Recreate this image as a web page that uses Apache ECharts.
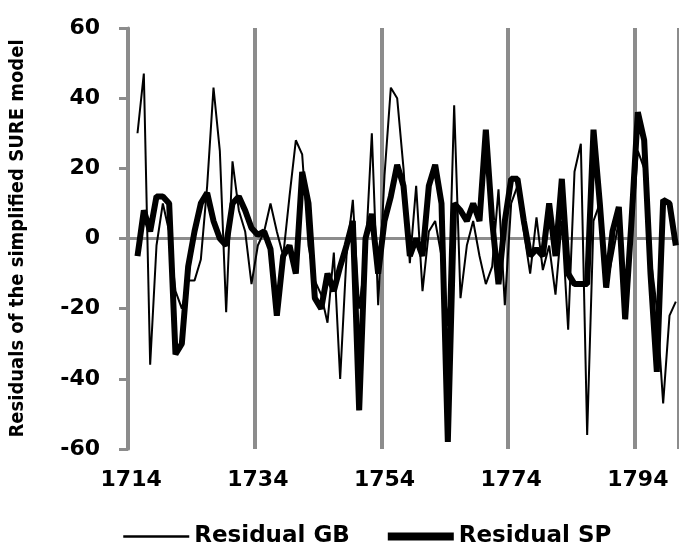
<!DOCTYPE html>
<html>
<head>
<meta charset="utf-8">
<script src="https://cdn.jsdelivr.net/npm/echarts@6/dist/echarts.min.js"></script>
<style>
html,body{margin:0;padding:0;background:#fff;}
#chart{width:679px;height:545px;}
</style>
</head>
<body>
<div id="chart"></div>
<script>
const years = [1714,1715,1716,1717,1718,1719,1720,1721,1722,1723,1724,1725,1726,1727,1728,1729,1730,1731,1732,1733,
1734,1735,1736,1737,1738,1739,1740,1741,1742,1743,1744,1745,1746,1747,1748,1749,1750,1751,1752,1753,
1754,1755,1756,1757,1758,1759,1760,1761,1762,1763,1764,1765,1766,1767,1768,1769,1770,1771,1772,1773,
1774,1775,1776,1777,1778,1779,1780,1781,1782,1783,1784,1785,1786,1787,1788,1789,1790,1791,1792,1793,
1794,1795,1796,1797,1798,1799,1800];

const residualGB = [null,30,47,-36,-2,10,2,-15,-20,-12,-12,
-6,15,43,25,-21,22,8,2,-13,-2,
2,10,2,-5,12,28,24,-2,-12,-16,
-24,-4,-40,-5,11,-20,-5,30,-19,18,
43,40,20,-7,15,-15,2,5,-5,-25,
38,-17,-2,5,-5,-13,-8,14,-19,10,
15,2,-10,6,-9,-2,-16,5,-26,19,
27,-56,5,10,-14,-5,5,-23,0,25,
20,-5,-20,-47,-22,-18];

const residualSP = [null,-5,8,2,12,12,10,-33,-30,-8,2,
10,13,5,0,-2,10,12,8,3,1,
2,-3,-22,-5,-2,-10,19,10,-17,-20,
-10,-15,-8,-2,5,-49,0,7,-10,5,
12,21,15,-5,0,-5,15,21,10,-58,
10,8,5,10,5,31,5,-13,5,17,
17,5,-5,-3,-5,10,-5,17,-10,-13,
-13,-13,31,10,-14,2,9,-23,5,36,
28,-10,-38,11,10,-2];

const yMin = -60, yMax = 60, yStep = 20;
const seriesNames = ['Residual GB', 'Residual SP'];

const gray = '#8c8c8c';
const fontFam = '"DejaVu Sans", Verdana, sans-serif';
const chart = echarts.init(document.getElementById('chart'), null, {renderer: 'canvas'});
const tr = 'rgba(0,0,0,0)';
const hiddenSymbol = {color: tr, borderColor: tr, borderWidth: 0, opacity: 0};
chart.setOption({
  animation: false,
  backgroundColor: '#fff',
  grid: {left: 128, top: 28, width: 554, height: 421, containLabel: false},
  legend: {
    left: 117, top: 520,
    itemWidth: 66, itemHeight: 24, itemGap: 34,
    textStyle: {fontFamily: fontFam, fontWeight: 'bold', fontSize: 23, color: '#000'},
    data: [
      {name: seriesNames[0], lineStyle: {width: 2.5, color: '#000'}, itemStyle: hiddenSymbol},
      {name: seriesNames[1], lineStyle: {width: 8, color: '#000'}, itemStyle: hiddenSymbol}
    ]
  },
  xAxis: [{
    type: 'category',
    data: years,
    boundaryGap: true,
    position: 'bottom',
    axisLine: {show: false, onZero: false},
    axisTick: {show: false, interval: 19},
    axisLabel: {interval: 19, margin: 20, fontFamily: fontFam, fontWeight: 'bold', fontSize: 22, color: '#000'},
    splitLine: {show: true, interval: 19, lineStyle: {color: gray, width: 4}}
  }],
  yAxis: {
    type: 'value',
    min: yMin, max: yMax, interval: yStep,
    axisLine: {show: true, lineStyle: {color: gray, width: 3}},
    axisTick: {show: true, inside: false, length: 9, lineStyle: {color: gray, width: 3}},
    axisLabel: {margin: 28, fontFamily: fontFam, fontWeight: 'bold', fontSize: 22, color: '#000'},
    splitLine: {show: true, lineStyle: {color: [tr, tr, tr, gray, tr, tr, tr], width: 3}},
    name: 'Residuals of the simplified SURE model',
    nameLocation: 'middle',
    nameGap: 100,
    nameTextStyle: {fontFamily: '"DejaVu Sans Condensed", "Liberation Sans Narrow", "Liberation Sans", sans-serif', fontWeight: 'bold', fontSize: 20, color: '#000'}
  },
  series: [
    {name: seriesNames[0], type: 'line', data: residualGB, symbol: 'none', connectNulls: false,
     lineStyle: {color: '#000', width: 2}, itemStyle: {color: '#000'}},
    {name: seriesNames[1], type: 'line', data: residualSP, symbol: 'none', connectNulls: false,
     lineStyle: {color: '#000', width: 6}, itemStyle: {color: '#000'}}
  ]
});
</script>
</body>
</html>
